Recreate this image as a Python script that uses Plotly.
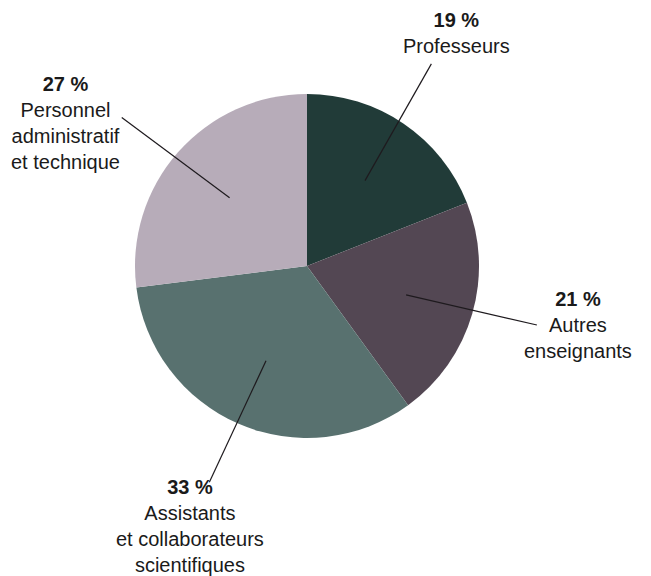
import math
import plotly.graph_objects as go

# ---- data ----
categories = ["Professeurs", "Autres<br>enseignants", "Assistants<br>et collaborateurs<br>scientifiques",
              "Personnel<br>administratif<br>et technique"]
values = [19, 21, 33, 27]
colors = ["#213b38", "#534753", "#58716f", "#b7acb9"]

# ---- layout constants ----
PAGE_OFF = 8                        # default body margin of the html page
W, H = 651 - PAGE_OFF, 576 - PAGE_OFF
CX, CY, R = 307, 266, 172          # pie centre / radius in window px
# label block offsets (px) from leader-line outer end
label_offsets = [(25, -31), (41, 0), (-19, 44), (-56, 5)]
# angular nudge (deg) of leader-line outer end
leader_nudge = [-2.6, -1.8, 0.9, -2.7]
inner_f, outer_f = 0.6, 1.38

def px2paper(x, y):
    return (x - PAGE_OFF) / W, 1 - (y - PAGE_OFF) / H

d0 = px2paper(CX - R, CY + R)
d1 = px2paper(CX + R, CY - R)
fig = go.Figure(go.Pie(
    labels=categories, values=values, sort=False, direction="clockwise", rotation=0,
    marker=dict(colors=colors, line=dict(width=0)),
    textinfo="none", hoverinfo="label+percent", showlegend=False,
    domain=dict(x=[d0[0], d1[0]], y=[d0[1], d1[1]]),
))

total = sum(values)
cum = 0
shapes, annotations = [], []
for cat, v, (dx, dy), nud in zip(categories, values, label_offsets, leader_nudge):
    mid = (cum + v / 2) / total * 2 * math.pi
    cum += v
    x0, y0 = CX + math.sin(mid) * R * inner_f, CY - math.cos(mid) * R * inner_f
    a1 = mid + math.radians(nud)
    x1, y1 = CX + math.sin(a1) * R * outer_f, CY - math.cos(a1) * R * outer_f
    p0, p1 = px2paper(x0, y0), px2paper(x1, y1)
    shapes.append(dict(type="line", xref="paper", yref="paper", x0=p0[0], y0=p0[1], x1=p1[0], y1=p1[1],
                       line=dict(color="#1e1a1e", width=1.2)))
    tx, ty = px2paper(x1 + dx, y1 + dy)
    pct = round(v / total * 100)
    annotations.append(dict(xref="paper", yref="paper", x=tx, y=ty, showarrow=False,
                            xanchor="center", yanchor="middle", align="center",
                            text=f"<b>{pct} %</b><br>{cat}",
                            font=dict(family="Liberation Sans, Arial, sans-serif", size=20, color="#1a1a1a")))

fig.update_layout(width=W, height=H, margin=dict(l=0, r=0, t=0, b=0),
                  paper_bgcolor="white", plot_bgcolor="white",
                  shapes=shapes, annotations=annotations)
fig.write_html("out.html")
